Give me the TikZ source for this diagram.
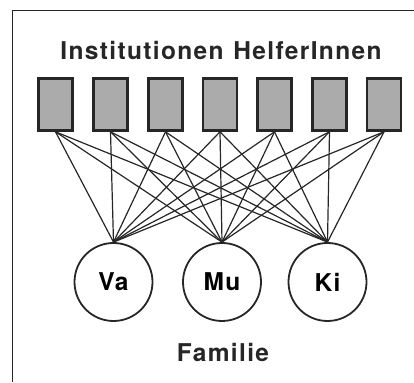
\documentclass[tikz,border=0pt]{standalone}
\usepackage{fontspec}
\setmainfont{TeX Gyre Heros}[LetterSpace=5.5]
\begin{document}
\begin{tikzpicture}[x=1pt,y=1pt,
  inst/.style={draw=black!85, line width=2.6pt, fill=black!33, minimum width=34pt, minimum height=52pt, inner sep=0pt},
  fam/.style={circle, draw=black!85, line width=1.8pt, minimum size=78pt, inner sep=0pt, font=\fontsize{24.5}{29}\selectfont\bfseries},
  link/.style={draw=black!85, line width=1.2pt},
  lbl/.style={font=\fontsize{24.5}{29}\selectfont\bfseries, text=black!85, inner sep=0pt}]
\useasboundingbox (0,0) rectangle (414,382);
\coordinate (fTL) at (12.5,371.5);
\coordinate (fR) at (414,371.5);
\coordinate (fB) at (12.5,0);
\draw[line width=1.5pt, black!85] (fB) -- (fTL) -- (fR);
\node[lbl] (title) at (221,332) {Institutionen\hspace{0.4em}HelferInnen};
\foreach \i/\x in {1/55.5,2/110.5,3/165.5,4/220,5/274.5,6/329.5,7/384}
  \node[inst] (b\i) at (\x,277.5) {};
\node[fam] (va) at (113.5,100) {Va};
\node[fam] (mu) at (222,100) {Mu};
\node[fam] (ki) at (327.5,100) {Ki};
\node[lbl] (familie) at (223,30) {Familie};
\foreach \i in {1,...,7}
  \foreach \c in {va,mu,ki}
    \draw[link] (b\i.south) -- (\c.north);
\end{tikzpicture}
\end{document}
